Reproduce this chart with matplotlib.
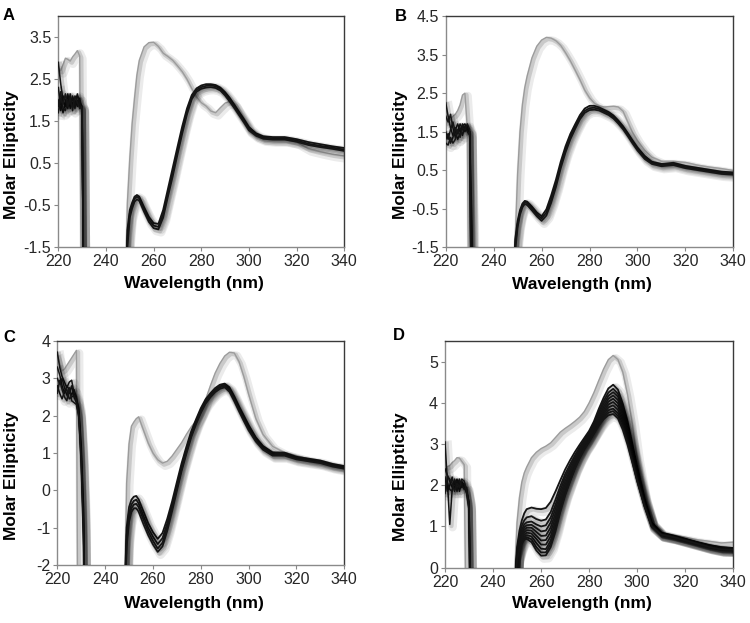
import matplotlib
matplotlib.use("Agg")
import matplotlib.pyplot as plt
from matplotlib import patheffects as pe

plt.rcParams['font.family'] = ['Liberation Sans', 'DejaVu Sans']

# wavelengths (nm): short-wavelength part and main band
wl_low = [220, 221, 222, 223, 224, 225, 226, 227, 228, 229, 230, 231, 232]
wl_main = [247, 248, 249, 250, 251, 252, 253, 254, 256, 258, 260, 262, 264, 266, 268, 270,
           272, 274, 276, 278, 280, 282, 284, 286, 288, 290, 292, 294, 296, 298, 300, 303,
           306, 310, 315, 320, 325, 330, 335, 340]

# ---- panel A
a_gray_low = [2.75, 2.7, 2.85, 3.0, 2.97, 2.93, 3.03, 3.1, 3.18, 3.05, -6, -6, -6]
a_gray_main = [-6, -3.0, -0.45, 0.6, 1.45, 2.05, 2.6, 2.95, 3.27, 3.37, 3.38, 3.28, 3.12, 3.04,
               2.95, 2.82, 2.68, 2.5, 2.28, 2.08, 1.94, 1.86, 1.74, 1.70, 1.82, 1.93, 1.97, 1.9,
               1.68, 1.48, 1.3, 1.17, 1.1, 1.08, 1.07, 1.0, 0.84, 0.77, 0.71, 0.67]
a_black_low = [
    [2.9, 2.4, 2.0, 1.85, 2.1, 2.0, 1.9, 2.05, 2.1, 1.95, 1.85, -6, -6],
    [2.3, 1.9, 1.7, 1.95, 2.15, 1.8, 2.1, 1.9, 2.0, 1.85, 1.8, -6, -6],
    [2.0, 1.75, 2.1, 2.0, 1.8, 2.15, 1.85, 2.0, 1.85, 2.05, 1.75, -6, -6],
    [1.85, 2.2, 1.8, 1.75, 2.0, 1.9, 2.05, 1.8, 2.15, 1.9, 1.8, -6, -6],
    [1.7, 2.05, 1.9, 2.15, 1.85, 2.05, 1.75, 2.1, 1.95, 1.8, 1.85, -6, -6],
]
a_black_main = [
    [-6, -3.3, -1.1, -0.62, -0.44, -0.3, -0.26, -0.3, -0.55, -0.78, -0.93, -0.95, -0.62, -0.12,
     0.38, 0.88, 1.37, 1.8, 2.12, 2.28, 2.35, 2.38, 2.38, 2.36, 2.3, 2.19, 2.05, 1.88, 1.71,
     1.54, 1.36, 1.21, 1.14, 1.12, 1.12, 1.07, 1.0, 0.95, 0.9, 0.86],
    [-6, -3.5, -1.3, -0.7, -0.5, -0.35, -0.3, -0.34, -0.6, -0.84, -0.99, -1.02, -0.72, -0.22,
     0.27, 0.78, 1.28, 1.73, 2.07, 2.24, 2.31, 2.34, 2.35, 2.33, 2.27, 2.15, 2.01, 1.84, 1.67,
     1.5, 1.32, 1.18, 1.11, 1.09, 1.09, 1.04, 0.96, 0.91, 0.87, 0.82],
    [-6, -3.7, -1.5, -0.8, -0.58, -0.42, -0.36, -0.4, -0.66, -0.9, -1.05, -1.08, -0.8, -0.3,
     0.18, 0.7, 1.2, 1.66, 2.02, 2.2, 2.27, 2.3, 2.31, 2.29, 2.23, 2.11, 1.96, 1.8, 1.63,
     1.46, 1.28, 1.15, 1.08, 1.06, 1.06, 1.01, 0.93, 0.88, 0.84, 0.79],
]

# ---- panel B
b_gray_low = [1.75, 1.85, 1.8, 1.9, 1.95, 2.05, 2.2, 2.45, 2.5, 1.6, -6, -6, -6]
b_gray_main = [-6, -4, -1.3, 0.4, 1.5, 2.2, 2.65, 2.95, 3.42, 3.72, 3.88, 3.95, 3.93, 3.86,
               3.74, 3.55, 3.34, 3.1, 2.85, 2.58, 2.38, 2.24, 2.17, 2.14, 2.15, 2.16, 2.14, 2.03,
               1.75, 1.48, 1.27, 1.02, 0.84, 0.73, 0.73, 0.7, 0.63, 0.58, 0.54, 0.49]
b_black_low = [
    [2.25, 1.9, 1.6, 1.4, 1.55, 1.7, 1.5, 1.65, 1.7, 1.55, 1.5, -6, -6],
    [1.9, 1.75, 1.95, 1.6, 1.35, 1.5, 1.7, 1.55, 1.6, 1.65, 1.45, -2, -6],
    [1.5, 1.3, 1.55, 1.75, 1.5, 1.3, 1.45, 1.7, 1.5, 1.6, 1.5, -6, -6],
    [1.3, 1.45, 1.2, 1.35, 1.6, 1.45, 1.6, 1.4, 1.65, 1.5, 1.4, -1, -6],
    [1.2, 1.15, 1.35, 1.2, 1.3, 1.55, 1.35, 1.6, 1.55, 1.7, 1.55, -6, -6],
]
b_black_main = [
    [-6, -3.8, -1.3, -0.82, -0.54, -0.37, -0.3, -0.32, -0.45, -0.6, -0.7, -0.52, -0.16, 0.25,
     0.72, 1.12, 1.44, 1.69, 1.93, 2.1, 2.17, 2.17, 2.13, 2.07, 2.01, 1.92, 1.79, 1.64, 1.46,
     1.27, 1.09, 0.87, 0.72, 0.66, 0.69, 0.61, 0.56, 0.51, 0.46, 0.44],
    [-6, -4, -1.45, -0.9, -0.6, -0.42, -0.34, -0.36, -0.5, -0.65, -0.76, -0.6, -0.26, 0.15,
     0.63, 1.04, 1.37, 1.63, 1.87, 2.04, 2.11, 2.12, 2.09, 2.03, 1.97, 1.88, 1.75, 1.6, 1.42,
     1.23, 1.05, 0.83, 0.69, 0.63, 0.66, 0.58, 0.53, 0.48, 0.43, 0.41],
    [-6, -4.2, -1.6, -0.98, -0.66, -0.47, -0.38, -0.41, -0.55, -0.7, -0.82, -0.68, -0.35, 0.06,
     0.55, 0.96, 1.3, 1.57, 1.82, 1.99, 2.06, 2.07, 2.05, 1.99, 1.93, 1.84, 1.71, 1.56, 1.38,
     1.19, 1.01, 0.79, 0.66, 0.6, 0.63, 0.55, 0.5, 0.45, 0.4, 0.38],
]

# ---- panel C
c_gray_low = [3.6, 3.4, 3.2, 3.25, 3.35, 3.45, 3.55, 3.65, 3.75, -10, -10, -10, -10]
c_gray_main = [-8, -3.5, 0.2, 1.25, 1.72, 1.83, 1.92, 1.97, 1.62, 1.27, 1.0, 0.82, 0.73, 0.78,
               0.92, 1.1, 1.28, 1.5, 1.7, 1.86, 2.07, 2.43, 2.8, 3.14, 3.4, 3.6, 3.7, 3.68, 3.45,
               3.05, 2.58, 1.93, 1.5, 1.18, 1.01, 0.93, 0.84, 0.76, 0.7, 0.65]
c_black_low = [
    [3.7, 3.3, 3.05, 2.9, 2.75, 2.9, 2.95, 2.6, 2.45, 2.2, 1.2, -0.5, -8],
    [3.3, 3.1, 2.8, 2.6, 2.8, 2.7, 2.55, 2.7, 2.5, 2.1, 1.0, -0.8, -8],
    [3.0, 2.85, 3.0, 2.75, 2.55, 2.6, 2.8, 2.5, 2.35, 2.05, 0.9, -1.2, -8],
    [2.8, 2.6, 2.45, 2.65, 2.7, 2.45, 2.5, 2.55, 2.4, 1.95, 0.8, -1.0, -8],
    [2.6, 2.95, 2.7, 2.5, 2.4, 2.75, 2.4, 2.35, 2.3, 2.0, 0.7, -1.5, -8],
]
c_black_main = [
    [-8, -3.2, -1.0, -0.45, -0.25, -0.17, -0.15, -0.24, -0.56, -0.88, -1.12, -1.3, -1.14, -0.76,
     -0.3, 0.22, 0.73, 1.17, 1.58, 1.9, 2.2, 2.44, 2.6, 2.74, 2.83, 2.86, 2.76, 2.52, 2.25, 2.0,
     1.75, 1.42, 1.19, 1.02, 1.01, 0.9, 0.85, 0.8, 0.71, 0.65],
    [-8, -3.5, -1.2, -0.6, -0.38, -0.28, -0.25, -0.35, -0.68, -1.0, -1.24, -1.44, -1.28, -0.88,
     -0.4, 0.13, 0.65, 1.1, 1.52, 1.85, 2.15, 2.4, 2.56, 2.7, 2.79, 2.83, 2.72, 2.47, 2.2, 1.95,
     1.7, 1.38, 1.15, 0.98, 0.98, 0.87, 0.82, 0.77, 0.68, 0.62],
    [-8, -3.6, -1.35, -0.72, -0.48, -0.38, -0.36, -0.45, -0.78, -1.1, -1.35, -1.56, -1.4, -0.98,
     -0.48, 0.06, 0.58, 1.04, 1.47, 1.81, 2.11, 2.36, 2.53, 2.67, 2.76, 2.8, 2.68, 2.43, 2.16,
     1.9, 1.65, 1.34, 1.12, 0.95, 0.95, 0.85, 0.8, 0.75, 0.66, 0.6],
    [-8, -3.8, -1.5, -0.85, -0.58, -0.48, -0.48, -0.57, -0.9, -1.2, -1.45, -1.65, -1.5, -1.08,
     -0.56, -0.02, 0.52, 0.98, 1.42, 1.77, 2.07, 2.32, 2.49, 2.63, 2.72, 2.76, 2.64, 2.39, 2.12,
     1.86, 1.61, 1.31, 1.09, 0.93, 0.93, 0.83, 0.78, 0.73, 0.64, 0.58],
]

# ---- panel D
d_gray_low = [2.45, 2.45, 2.48, 2.55, 2.6, 2.67, 2.66, 2.58, 2.5, -2.5, -4, -4, -4]
d_gray_main = [-4, -3, -0.2, 1.1, 1.7, 2.08, 2.3, 2.44, 2.67, 2.8, 2.89, 2.95, 3.03, 3.16, 3.29,
               3.38, 3.46, 3.55, 3.65, 3.79, 4.0, 4.25, 4.54, 4.82, 5.05, 5.15, 5.05, 4.75, 4.2,
               3.5, 2.65, 1.7, 1.1, 0.86, 0.79, 0.74, 0.68, 0.64, 0.6, 0.62]
d_black_low = [
    [3.05, 2.1, 1.05, 1.9, 2.05, 2.15, 2.0, 2.1, 1.95, 1.85, 1.6, -2, -4],
    [2.4, 2.25, 2.1, 1.95, 2.1, 2.0, 2.15, 1.95, 2.05, 1.9, 1.5, -4, -4],
    [2.2, 1.85, 2.0, 2.2, 1.9, 2.1, 1.85, 2.05, 2.0, 1.8, 1.4, -3, -4],
    [1.95, 2.05, 1.9, 1.85, 2.15, 1.85, 2.1, 2.0, 1.9, 1.95, 1.55, -4, -4],
    [1.8, 2.2, 2.15, 2.05, 1.85, 2.05, 1.95, 2.15, 2.1, 1.85, 1.45, -1.5, -4],
]
d_black_main = [
    [-4, -3, -0.6, 0.5, 0.9, 1.15, 1.32, 1.42, 1.46, 1.43, 1.42, 1.45, 1.6, 1.85, 2.12, 2.38,
     2.6, 2.8, 2.98, 3.15, 3.32, 3.55, 3.85, 4.12, 4.35, 4.44, 4.32, 3.98, 3.55, 3.0, 2.45,
     1.68, 1.1, 0.85, 0.78, 0.7, 0.62, 0.55, 0.5, 0.48],
    [-4, -3, -0.7, 0.4, 0.8, 1.02, 1.15, 1.22, 1.25, 1.18, 1.14, 1.17, 1.35, 1.65, 1.98, 2.27,
     2.5, 2.72, 2.92, 3.1, 3.28, 3.5, 3.78, 4.04, 4.25, 4.34, 4.22, 3.9, 3.46, 2.92, 2.38,
     1.65, 1.08, 0.84, 0.77, 0.69, 0.61, 0.54, 0.49, 0.47],
    [-4, -3, -0.7, 0.35, 0.72, 0.93, 1.05, 1.1, 1.12, 1.05, 1.0, 1.03, 1.22, 1.53, 1.88, 2.19,
     2.43, 2.66, 2.87, 3.06, 3.24, 3.46, 3.72, 3.97, 4.17, 4.26, 4.15, 3.84, 3.4, 2.87, 2.33,
     1.62, 1.07, 0.83, 0.76, 0.69, 0.61, 0.53, 0.48, 0.46],
    [-4, -3, -0.75, 0.32, 0.66, 0.86, 0.98, 1.03, 1.04, 0.96, 0.88, 0.9, 1.1, 1.43, 1.79, 2.1,
     2.36, 2.6, 2.82, 3.02, 3.2, 3.41, 3.66, 3.9, 4.1, 4.18, 4.07, 3.77, 3.34, 2.81, 2.28,
     1.6, 1.06, 0.82, 0.76, 0.68, 0.6, 0.52, 0.47, 0.45],
    [-4, -3, -0.75, 0.3, 0.6, 0.8, 0.92, 0.97, 0.97, 0.87, 0.77, 0.78, 0.98, 1.32, 1.7, 2.02,
     2.3, 2.55, 2.78, 2.98, 3.16, 3.37, 3.61, 3.84, 4.03, 4.1, 3.99, 3.7, 3.28, 2.76, 2.24,
     1.58, 1.05, 0.82, 0.75, 0.68, 0.6, 0.52, 0.46, 0.45],
    [-4, -3, -0.75, 0.28, 0.56, 0.75, 0.86, 0.91, 0.9, 0.78, 0.66, 0.67, 0.87, 1.22, 1.61, 1.95,
     2.24, 2.5, 2.74, 2.95, 3.13, 3.33, 3.56, 3.78, 3.96, 4.02, 3.91, 3.63, 3.22, 2.71, 2.2,
     1.56, 1.04, 0.81, 0.75, 0.67, 0.59, 0.51, 0.45, 0.44],
    [-4, -3, -0.8, 0.25, 0.52, 0.7, 0.8, 0.85, 0.83, 0.7, 0.56, 0.56, 0.76, 1.12, 1.53, 1.88,
     2.18, 2.46, 2.71, 2.92, 3.1, 3.3, 3.52, 3.73, 3.89, 3.94, 3.83, 3.56, 3.16, 2.67, 2.17,
     1.54, 1.03, 0.81, 0.75, 0.67, 0.59, 0.51, 0.45, 0.44],
    [-4, -3, -0.8, 0.23, 0.48, 0.65, 0.75, 0.79, 0.76, 0.6, 0.46, 0.45, 0.66, 1.03, 1.46, 1.82,
     2.13, 2.43, 2.68, 2.9, 3.08, 3.28, 3.49, 3.68, 3.82, 3.86, 3.75, 3.49, 3.1, 2.62, 2.14,
     1.52, 1.02, 0.8, 0.74, 0.66, 0.58, 0.5, 0.44, 0.43],
    [-4, -3, -0.8, 0.22, 0.45, 0.61, 0.71, 0.74, 0.69, 0.5, 0.37, 0.37, 0.58, 0.95, 1.4, 1.78,
     2.1, 2.41, 2.67, 2.89, 3.07, 3.27, 3.47, 3.64, 3.76, 3.8, 3.68, 3.42, 3.04, 2.58, 2.12,
     1.51, 1.01, 0.8, 0.74, 0.66, 0.58, 0.5, 0.44, 0.43],
    [-4, -3, -0.8, 0.2, 0.42, 0.58, 0.68, 0.7, 0.62, 0.42, 0.29, 0.3, 0.5, 0.88, 1.35, 1.75,
     2.08, 2.39, 2.65, 2.87, 3.05, 3.25, 3.44, 3.6, 3.7, 3.73, 3.62, 3.35, 2.98, 2.55, 2.1,
     1.5, 1.0, 0.8, 0.74, 0.66, 0.58, 0.5, 0.44, 0.43],
]

# letter, axes rect, ylim, yticks, label offsets (x of ylabel, y of xlabel), letter position
panels = [
    ("A", [0.0777, 0.6035, 0.3813, 0.3705], (-1.5, 4.0), [-1.5, -0.5, 0.5, 1.5, 2.5, 3.5],
     (-0.163, -0.156), (0.004, 0.975), a_gray_low, a_gray_main, a_black_low, a_black_main),
    ("B", [0.5943, 0.6035, 0.3834, 0.3705], (-1.5, 4.5), [-1.5, -0.5, 0.5, 1.5, 2.5, 3.5, 4.5],
     (-0.156, -0.164), (0.527, 0.973), b_gray_low, b_gray_main, b_black_low, b_black_main),
    ("C", [0.0764, 0.0931, 0.3826, 0.3595], (-2, 4), [-2, -1, 0, 1, 2, 3, 4],
     (-0.159, -0.17), (0.004, 0.4575), c_gray_low, c_gray_main, c_black_low, c_black_main),
    ("D", [0.5933, 0.0888, 0.3844, 0.3638], (0, 5.5), [0, 1, 2, 3, 4, 5],
     (-0.153, -0.157), (0.524, 0.461), d_gray_low, d_gray_main, d_black_low, d_black_main),
]

def shadow(lw):
    return [pe.SimpleLineShadow(offset=(2, -2), shadow_color='k', alpha=0.08, linewidth=lw + 5),
            pe.SimpleLineShadow(offset=(1.2, -1.2), shadow_color='k', alpha=0.14, linewidth=lw + 2),
            pe.Normal()]

fig = plt.figure(figsize=(7.5, 6.23), dpi=100)
for letter, rect, ylim, yticks, (ylx, xly), (lx, ly), g_low, g_main, k_low, k_main in panels:
    ax = fig.add_axes(rect)
    ax.plot(wl_low, g_low, color='#9c9c9c', lw=1.0, path_effects=shadow(1.0), zorder=2)
    ax.plot(wl_main, g_main, color='#9c9c9c', lw=1.0, path_effects=shadow(1.0), zorder=2)
    for ys in k_low:
        ax.plot(wl_low, ys, color='#151515', lw=1.1, path_effects=shadow(1.1), zorder=3)
    for ys in k_main:
        ax.plot(wl_main, ys, color='#151515', lw=1.3, path_effects=shadow(1.3), zorder=3)
    ax.set_xlim(220, 340)
    ax.set_ylim(*ylim)
    ax.set_xticks(range(220, 341, 20))
    ax.set_yticks(yticks)
    ax.set_yticklabels([('%g' % t) if letter in 'CD' else ('%.1f' % t) for t in yticks])
    ax.tick_params(direction='out', length=3, width=0.8, colors='#888888',
                   labelcolor='#262626', labelsize=11.5, pad=2)
    for s in ['left', 'bottom']:
        ax.spines[s].set_color('#8a8a8a')
        ax.spines[s].set_linewidth(1.0)
    for s in ['top', 'right']:
        ax.spines[s].set_color('#3a3a3a')
        ax.spines[s].set_linewidth(1.0)
    ax.set_xlabel("Wavelength (nm)", fontsize=12.5, fontweight='bold', va='center')
    ax.set_ylabel("Molar Ellipticity", fontsize=12.5, fontweight='bold', va='center')
    ax.xaxis.set_label_coords(0.475, xly)
    ax.yaxis.set_label_coords(ylx, 0.40)
    fig.text(lx, ly, letter, fontsize=12, fontweight='bold', ha='left', va='center')

fig.savefig("out.png", dpi=100)
